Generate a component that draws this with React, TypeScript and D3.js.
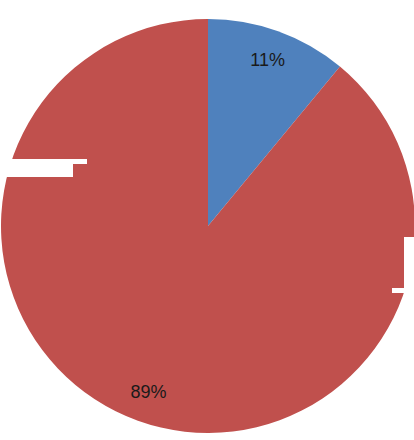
import React from "react";
import * as d3 from "d3";

const categories = ["A", "B"];
const values = [11, 89];
const labels = ["11%", "89%"];
const colors = ["#4F81BD", "#C0504D"];

const W = 414;
const H = 440;
const cx = 208;
const cy = 226;
const R = 207;

export default function App() {
  const pie = d3
    .pie<number>()
    .sort(null)
    .value((d) => d)
    .startAngle(0)
    .endAngle(2 * Math.PI);
  const arcs = pie(values);
  const arc = d3.arc<d3.PieArcDatum<number>>().innerRadius(0).outerRadius(R);
  const labelArc = d3
    .arc<d3.PieArcDatum<number>>()
    .innerRadius(176)
    .outerRadius(176);

  return (
    <svg
      width={W}
      height={H}
      style={{ position: "absolute", left: 0, top: 0, background: "#fff" }}
    >
      <g transform={`translate(${cx},${cy})`}>
        {arcs.map((a, i) => (
          <path key={categories[i]} d={arc(a) || ""} fill={colors[i]} />
        ))}
        {arcs.map((a, i) => {
          const [x, y] = labelArc.centroid(a);
          return (
            <text
              key={"l" + i}
              x={x}
              y={y}
              textAnchor="middle"
              dominantBaseline="central"
              fontFamily="Liberation Sans, Arial, sans-serif"
              fontSize={18}
              fill="#1a1a1a"
            >
              {labels[i]}
            </text>
          );
        })}
      </g>
      <rect x={0} y={159} width={87} height={5} fill="#fff" />
      <rect x={0} y={159} width={73} height={18} fill="#fff" />
      <rect x={404} y={237} width={10} height={52} fill="#fff" />
      <rect x={392} y={288} width={22} height={5} fill="#fff" />
    </svg>
  );
}
